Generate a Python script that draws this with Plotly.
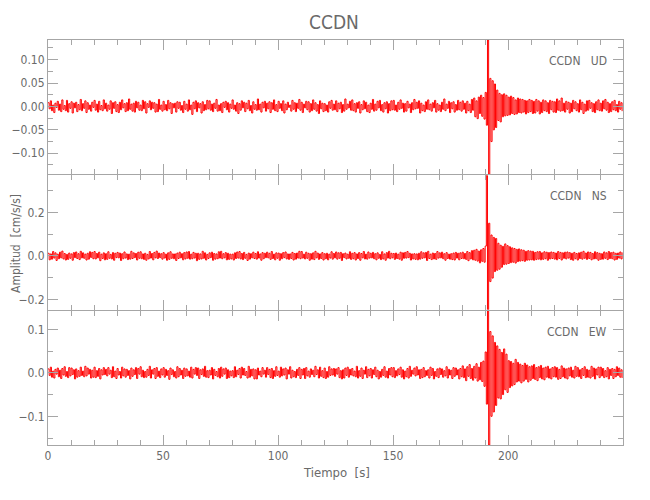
import numpy as np
import plotly.graph_objects as go
from plotly.subplots import make_subplots

# ---- data ----
station = "CCDN"
components = ["UD", "NS", "EW"]
dt = 0.5  # seconds between samples
# amplitudes in units of 0.001 cm/s/s
ud_milli = [
    8,-5,12,-9,3,-13,7,-2,11,-8, 5,-11,14,-6,2,-9,13,-12,6,-4,
    10,-14,7,-3,9,-11,4,-7,15,-9, 6,-4,12,-13,8,-6,3,-10,9,-2,
    13,-8,5,-12,11,-7,2,-9,14,-5, 7,-10,3,-6,12,-15,8,-4,10,-11,
    4,-13,9,-7,14,-3,6,-11,8,-9, 16,-6,5,-10,7,-12,11,-3,9,-8,
    3,-9,13,-5,10,-14,6,-2,12,-7, 9,-4,8,-12,5,-11,15,-6,3,-10,
    11,-7,4,-9,13,-5,8,-15,6,-3, 7,-12,10,-4,9,-8,2,-13,11,-6,
    5,-10,14,-7,3,-17,9,-5,12,-11, 8,-3,6,-14,10,-9,4,-7,13,-5,
    12,-8,5,-11,7,-4,15,-10,3,-9, 6,-13,9,-2,11,-7,8,-12,5,-4,
    14,-6,3,-10,8,-15,6,-8,12,-3, 9,-11,7,-5,13,-9,2,-14,10,-6,
    4,-8,16,-7,5,-12,9,-3,11,-10, 7,-5,10,-13,8,-6,14,-9,4,-11,
    11,-4,6,-9,12,-14,5,-7,9,-2, 3,-10,13,-6,8,-11,7,-4,15,-8,
    9,-13,5,-3,11,-7,10,-12,6,-9, 14,-6,8,-10,4,-15,12,-5,7,-11,
    6,-9,3,-12,10,-4,13,-8,5,-7, 12,-11,7,-5,9,-13,4,-10,16,-6,
    5,-3,11,-8,14,-9,6,-12,8,-4, 10,-14,4,-7,12,-5,9,-11,3,-13,
    7,-6,15,-10,5,-8,11,-3,13,-9, 4,-12,8,-5,10,-14,6,-9,12,-7,
    13,-8,3,-11,9,-6,14,-4,7,-12, 6,-10,11,-3,5,-13,8,-7,15,-5,
    9,-4,12,-14,7,-9,3,-11,10,-6, 14,-7,5,-10,8,-3,13,-12,6,-8,
    3,-11,9,-6,16,-9,5,-4,11,-13, 8,-5,10,-12,4,-8,13,-7,9,-10,
    12,-6,7,-14,11,-9,5,-13,15,-8,
    18,-22,12,-26,20,-15,24,-21,19,-27,
    30,-40,142,-145,60,-75,55,-50,48,-45,
    35,-30,28,-33,25,-22,27,-20,24,-19,
    20,-18,22,-15,19,-17,14,-16,18,-13,
    16,-14,15,-12,13,-16,12,-13,15,-11,
    13,-15,11,-14,15,-10,12,-16,9,-13,
    14,-9,12,-11,8,-15,13,-7,11,-12,
    10,-13,16,-8,12,-10,18,-9,7,-12,
    11,-6,9,-14,7,-11,13,-5,10,-9,
    6,-12,14,-7,9,-15,5,-10,12,-8,
    13,-4,8,-11,6,-13,10,-7,14,-9,
    7,-10,12,-5,15,-8,9,-13,6,-11,
    10,-7,13,-9,4,-12,11,-6,8,-10,
]
ns_milli = [
    12,-18,9,-15,20,-10,14,-21,8,-13, 17,-9,22,-14,11,-19,7,-16,13,-11,
    9,-20,15,-8,18,-12,10,-17,21,-9, 14,-11,8,-19,12,-15,19,-7,16,-13,
    20,-14,11,-9,17,-22,8,-12,14,-18, 10,-16,19,-11,7,-14,15,-20,12,-8,
    16,-9,13,-21,10,-13,18,-10,9,-17, 8,-15,21,-12,14,-8,11,-19,17,-11,
    19,-13,9,-16,12,-20,7,-14,20,-10, 11,-18,16,-9,22,-12,13,-8,10,-15,
    15,-10,8,-20,14,-16,19,-11,9,-13, 9,-21,13,-12,17,-9,10,-18,15,-14,
    18,-11,20,-15,8,-13,16,-10,12,-22, 12,-16,9,-14,21,-11,14,-19,7,-12,
    14,-8,17,-20,11,-15,9,-13,19,-10, 21,-13,10,-9,15,-18,12,-16,8,-14,
    8,-19,14,-12,18,-10,20,-14,11,-17, 16,-11,7,-21,13,-15,10,-9,17,-12,
    11,-15,19,-10,9,-20,15,-13,12,-8, 17,-9,12,-16,20,-12,8,-18,14,-11,
    13,-20,10,-13,15,-8,18,-14,9,-16, 9,-12,16,-19,11,-15,13,-10,21,-13,
    20,-10,8,-14,17,-11,12,-20,10,-15, 14,-17,21,-9,13,-16,9,-12,15,-19,
    10,-13,12,-18,8,-10,19,-15,11,-9, 18,-15,14,-11,16,-21,10,-8,13,-14,
    8,-11,19,-16,12,-13,15,-19,9,-12, 15,-20,11,-9,20,-14,8,-15,18,-10,
    12,-9,16,-13,10,-18,14,-11,7,-17, 19,-14,9,-20,15,-10,21,-13,12,-9,
    11,-16,13,-12,8,-15,17,-20,14,-11, 16,-10,20,-8,12,-19,9,-14,10,-16,
    9,-18,12,-15,19,-11,14,-9,16,-21, 21,-12,8,-17,13,-14,11,-16,20,-10,
    14,-9,17,-13,10,-20,15,-12,8,-15, 10,-17,13,-19,16,-10,12,-18,14,-12,
    17,-13,11,-16,20,-22,15,-14,24,-18,
    26,-20,30,-24,22,-32,28,-25,34,-29,
    45,370,-247,150,-118,96,-102,85,-72,80,
    -66,58,-61,49,-52,44,-40,55,-38,47,
    -35,42,-31,37,-29,34,-33,30,-26,32,
    -24,28,-22,26,-25,21,-20,24,-19,22,
    -18,21,-20,16,-17,19,-15,20,-18,14,
    -16,19,-13,17,-20,15,-14,18,-12,16,
    -15,13,-18,20,-12,16,-19,14,-11,17,
    -14,18,-10,15,-17,12,-20,16,-13,11,
    -19,14,-12,17,-15,21,-11,13,-16,18,
    -12,16,-18,11,-14,19,-13,15,-20,12,
    -16,10,-15,18,-11,14,-17,20,-12,15,
    -13,17,-19,12,-16,13,-10,18,-14,16,
]
ew_milli = [
    9,-6,13,-10,4,-12,8,-3,11,-9, 6,-13,10,-5,14,-8,3,-11,12,-7,
    11,-4,7,-14,9,-10,5,-8,13,-6, 4,-9,15,-7,11,-3,8,-12,6,-10,
    13,-11,5,-8,10,-14,7,-5,12,-4, 8,-7,12,-3,6,-11,14,-9,4,-13,
    10,-5,3,-12,13,-7,9,-10,8,-6, 5,-14,11,-8,7,-4,12,-13,10,-3,
    14,-9,6,-11,3,-10,8,-6,15,-12, 7,-3,10,-13,12,-8,4,-11,9,-5,
    12,-10,8,-6,5,-15,11,-4,7,-9, 3,-12,14,-9,10,-5,6,-13,11,-8,
    9,-7,4,-10,13,-12,8,-3,12,-6, 11,-13,7,-4,9,-8,15,-10,5,-11,
    6,-5,12,-14,8,-6,3,-9,10,-12, 13,-8,9,-3,11,-13,7,-11,4,-7,
    5,-11,14,-9,6,-4,10,-12,13,-5, 10,-6,3,-12,15,-10,8,-7,9,-14,
    7,-14,11,-5,4,-9,12,-3,6,-10, 12,-4,8,-11,10,-13,5,-8,14,-6,
    4,-10,13,-7,9,-5,11,-14,7,-3, 14,-12,6,-9,3,-11,8,-6,12,-13,
    8,-5,10,-13,12,-7,4,-10,9,-4, 6,-9,15,-4,7,-12,13,-8,5,-11,
    11,-13,3,-10,14,-6,9,-5,10,-8, 9,-3,12,-11,5,-14,7,-12,11,-6,
    13,-10,8,-5,10,-7,4,-9,15,-12, 5,-8,11,-13,6,-3,14,-11,8,-7,
    10,-12,7,-4,13,-9,6,-14,3,-10, 8,-6,14,-10,4,-12,10,-5,12,-9,
    12,-11,5,-7,9,-4,13,-10,7,-14, 4,-9,10,-12,15,-8,6,-3,11,-7,
    14,-5,7,-13,8,-11,12,-9,5,-6, 7,-12,13,-6,10,-14,3,-8,9,-11,
    11,-4,9,-10,5,-7,14,-12,8,-5, 6,-13,12,-8,11,-5,7,-14,10,-9,
    16,-11,9,-18,14,-8,19,-13,10,-17,
    15,-12,21,-19,13,-16,24,-20,27,-31,
    48,-72,143,-166,95,-100,85,-90,70,-75,
    62,-58,54,-60,47,-50,55,-39,43,-45,
    28,-34,26,-30,22,-27,31,-21,24,-19,
    20,-23,17,-19,22,-15,18,-21,14,-17,
    16,-13,19,-15,12,-18,14,-11,17,-14,
    11,-16,13,-10,15,-12,9,-14,12,-9,
    14,-10,12,-15,8,-13,16,-9,11,-12,
    9,-14,11,-7,13,-10,6,-12,15,-8,
    12,-9,7,-13,10,-6,14,-11,8,-10,
    6,-12,15,-8,11,-14,9,-5,13,-11,
    13,-7,10,-11,5,-9,12,-14,8,-6,
    10,-13,8,-9,14,-6,11,-10,7,-12,
]
y_ranges = [[-0.145, 0.142], [-0.247, 0.370], [-0.166, 0.143]]
y_dticks = [0.05, 0.2, 0.1]
y_minor = [0.025, 0.1, 0.05]
y_formats = [".2f", ".1f", ".1f"]
x_range = [0, 249.9]

FONT = "Liberation Sans Narrow, DejaVu Sans Condensed, Arial Narrow, sans-serif"
TXT = "#6a6a6a"
AX = "#a6a6a6"

traces = [ud_milli, ns_milli, ew_milli]

fig = make_subplots(rows=3, cols=1, shared_xaxes=True, vertical_spacing=1/405)
for r, vals in enumerate(traces, start=1):
    v = np.array(vals, dtype=float) / 1000.0
    t = np.arange(len(v)) * dt
    fig.add_trace(go.Scatter(x=t, y=v, mode="lines",
                             line=dict(color="#ff0000", width=1, shape="hv"),
                             showlegend=False, hoverinfo="skip"), row=r, col=1)
    fig.update_yaxes(range=y_ranges[r-1], dtick=y_dticks[r-1], tick0=0,
                     tickformat=y_formats[r-1], automargin=False,
                     minor=dict(dtick=y_minor[r-1], tick0=0, ticklen=5,
                                tickcolor=AX, ticks="inside"),
                     ticks="inside", ticklen=10, tickcolor=AX,
                     showline=True, linecolor=AX, linewidth=1, mirror="ticks",
                     showgrid=False, zeroline=False,
                     tickfont=dict(family=FONT, size=12, color=TXT),
                     row=r, col=1)
    fig.update_xaxes(range=x_range, dtick=50, tick0=0, automargin=False,
                     minor=dict(dtick=10, tick0=0, ticklen=5, tickcolor=AX,
                                ticks="inside"),
                     ticks="inside", ticklen=10, tickcolor=AX,
                     showline=True, linecolor=AX, linewidth=1, mirror="ticks",
                     showgrid=False, zeroline=False,
                     showticklabels=(r == 3),
                     tickfont=dict(family=FONT, size=12, color=TXT),
                     row=r, col=1)

ann = []
ann.append(dict(text=station, x=0.497, y=1.044, xref="paper", yref="paper",
                showarrow=False, xanchor="center", yanchor="middle",
                font=dict(family=FONT, size=19, color=TXT)))
label_y = [0.9489, 0.6148, 0.2798]
for comp, yy in zip(components, label_y):
    ann.append(dict(text=station + "\u00a0\u00a0\u00a0" + comp, x=0.9757, y=yy,
                    xref="paper", yref="paper", showarrow=False,
                    xanchor="right", yanchor="middle",
                    font=dict(family=FONT, size=12, color=TXT)))
ann.append(dict(text="Amplitud\u00a0\u00a0[cm/s/s]", x=-0.0557, y=0.4988,
                xref="paper", yref="paper", showarrow=False, textangle=-90,
                xanchor="center", yanchor="middle",
                font=dict(family=FONT, size=12, color=TXT)))
ann.append(dict(text="Tiempo\u00a0\u00a0[s]", x=0.5009, y=-0.0684,
                xref="paper", yref="paper", showarrow=False,
                xanchor="center", yanchor="middle",
                font=dict(family=FONT, size=13, color=TXT)))

# page body adds an 8 px offset, so the figure is 8 px smaller than the window
fig.update_layout(width=642, height=492,
                  margin=dict(l=40, r=27, t=32, b=55),
                  plot_bgcolor="white", paper_bgcolor="white",
                  annotations=ann)
fig.write_html("out.html")
